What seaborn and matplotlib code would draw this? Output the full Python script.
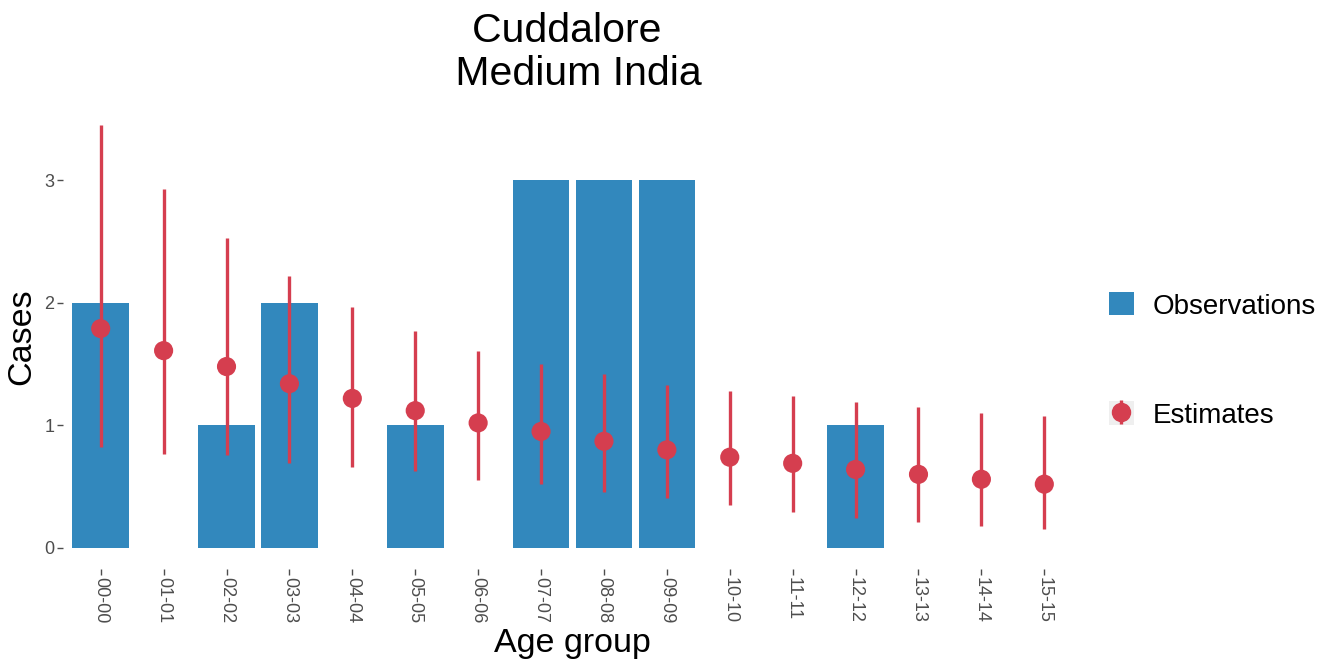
import matplotlib
matplotlib.use("Agg")
import matplotlib.pyplot as plt
import seaborn as sns
import pandas as pd
import numpy as np
from matplotlib.lines import Line2D
from matplotlib.patches import Patch
from matplotlib.legend_handler import HandlerTuple

age_groups = ["00-00", "01-01", "02-02", "03-03", "04-04", "05-05", "06-06", "07-07",
              "08-08", "09-09", "10-10", "11-11", "12-12", "13-13", "14-14", "15-15"]
observations = [2, 0, 1, 2, 0, 1, 0, 3, 3, 3, 0, 0, 1, 0, 0, 0]
est_median = [1.79, 1.61, 1.48, 1.34, 1.22, 1.12, 1.02, 0.95, 0.87, 0.80, 0.74, 0.69, 0.64, 0.60, 0.56, 0.52]
est_lower = [0.82, 0.77, 0.76, 0.69, 0.66, 0.63, 0.55, 0.52, 0.46, 0.41, 0.35, 0.29, 0.24, 0.21, 0.18, 0.15]
est_upper = [3.45, 2.93, 2.53, 2.22, 1.97, 1.77, 1.61, 1.50, 1.42, 1.33, 1.28, 1.24, 1.19, 1.15, 1.10, 1.08]

BLUE = "#3288BD"
RED = "#D53E4F"

sns.set_theme(style="white")
plt.rcParams['font.family'] = ['Liberation Sans', 'DejaVu Sans']

df = pd.DataFrame({"age": age_groups, "obs": observations,
                   "med": est_median, "lo": est_lower, "hi": est_upper})

fig = plt.figure(figsize=(13.28, 6.63), dpi=100)
ax = fig.add_axes([0.0474, 0.1418, 0.8148 - 0.0474, 0.843 - 0.1418])

sns.barplot(data=df, x="age", y="obs", color=BLUE, saturation=1, width=0.9, ax=ax,
            linewidth=0)
xpos = np.arange(len(age_groups))
ax.vlines(xpos, df["lo"], df["hi"], color=RED, linewidth=2.4, zorder=3)
sns.scatterplot(x=xpos, y=df["med"], color=RED, s=190, edgecolor="none", ax=ax, zorder=4,
                legend=False)

ax.set_xlim(-0.6, len(age_groups) - 0.4)
ymax = max(est_upper)
ax.set_ylim(-0.05 * ymax, ymax * 1.05)
ax.set_yticks([0, 1, 2, 3])
for s in ax.spines.values():
    s.set_visible(False)
ax.grid(False)
ax.tick_params(axis="both", which="both", length=4, width=1, color="#4d4d4d",
               labelcolor="#4d4d4d", labelsize=13, pad=2, left=True, bottom=True)
ax.set_xticks(xpos)
ax.set_xticklabels(age_groups, rotation=-90)
ax.set_xlabel("Age group", fontsize=24.5, labelpad=3, color="black")
ax.set_ylabel("Cases", fontsize=24.5, labelpad=5, color="black")
ax.set_title("Cuddalore \n Medium India", fontsize=29.5, pad=13.5, linespacing=1.18,
             color="black")

obs_handle = Patch(facecolor=BLUE, edgecolor="none")
est_handle = (Patch(facecolor="#EFEFEF", edgecolor="none"),
              Line2D([], [], marker="|", markersize=17, markeredgewidth=2.4, color=RED, linestyle="none"),
              Line2D([], [], marker="o", markersize=13, color=RED, linestyle="none"))
leg = fig.legend([obs_handle, est_handle], ["Observations", "Estimates"],
                 handler_map={tuple: HandlerTuple(ndivide=1, pad=0)},
                 loc="center left", bbox_to_anchor=(0.816, 0.4563), frameon=False,
                 fontsize=20, handlelength=0.9, handleheight=0.9, labelspacing=2.95,
                 handletextpad=0.7)
for t in leg.get_texts():
    t.set_color("black")

fig.savefig("out.png", dpi=100, facecolor="white")
